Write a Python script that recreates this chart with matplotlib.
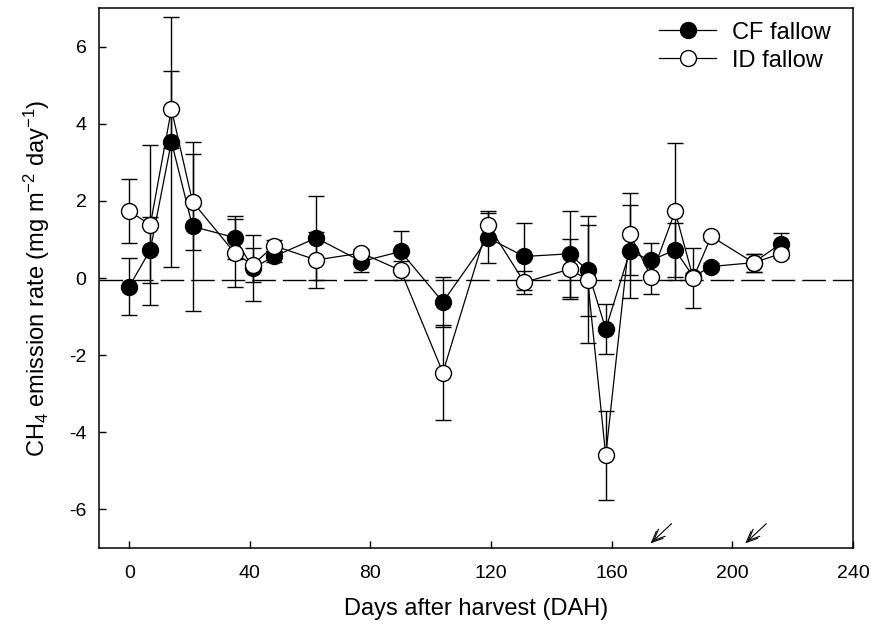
import numpy as np
import matplotlib
matplotlib.use("Agg")
import matplotlib.pyplot as plt

plt.rcParams['font.family'] = ['Liberation Sans', 'DejaVu Sans']
plt.rcParams['axes.unicode_minus'] = False
plt.rcParams['mathtext.fontset'] = 'custom'
plt.rcParams['mathtext.rm'] = 'Liberation Sans'
plt.rcParams['mathtext.it'] = 'Liberation Sans'
plt.rcParams['mathtext.default'] = 'regular'

# -------------------------------
# DATOS
# -------------------------------
dias = [0, 7, 14, 21, 35, 41, 48, 62, 77, 90, 104, 119, 131, 146, 152, 158,
        166, 173, 181, 187, 193, 207, 216]

cf_media = [-0.22, 0.73, 3.54, 1.34, 1.05, 0.26, 0.56, 1.04, 0.43, 0.69, -0.62,
            1.04, 0.56, 0.63, 0.20, -1.32, 0.69, 0.46, 0.73, 0.04, 0.30, 0.40, 0.89]
cf_err = [0.75, 0.86, 3.24, 2.19, 0.56, 0.86, 0.15, 1.08, 0.26, 0.52, 0.64,
          0.66, 0.88, 1.12, 1.18, 0.64, 1.20, 0.45, 0.71, 0.10, 0.10, 0.23, 0.29]

id_media = [1.74, 1.38, 4.38, 1.98, 0.65, 0.34, 0.84, 0.47, 0.65, 0.20, -2.45,
            1.38, -0.11, 0.23, -0.04, -4.60, 1.14, 0.04, 1.73, 0.00, 1.08, 0.40, 0.63]
id_err = [0.84, 2.07, 1.00, 1.25, 0.87, 0.43, 0.15, 0.73, 0.10, 0.24, 1.22,
          0.37, 0.30, 0.78, 1.65, 1.15, 1.06, 0.45, 1.78, 0.77, 0.10, 0.23, 0.10]

# flechas (dia de la punta)
flechas = [172.2, 203.6]

# -------------------------------
# FIGURA
# -------------------------------
fig = plt.figure(figsize=(8.71, 6.32), dpi=100)
ax = fig.add_axes([0.1137, 0.133, 0.8657, 0.854])

ax.axhline(-0.05, color='black', lw=1.0, dashes=(17, 5), zorder=1)

# barras de error
ax.errorbar(dias, cf_media, yerr=cf_err, fmt='none', ecolor='black',
            elinewidth=1.0, capsize=5.5, capthick=1.0, zorder=2)
ax.errorbar(dias, id_media, yerr=id_err, fmt='none', ecolor='black',
            elinewidth=1.0, capsize=5.5, capthick=1.0, zorder=2)

# lineas + marcadores
ax.plot(dias, cf_media, '-o', color='black', lw=0.9, ms=11.5, mfc='black',
        mec='black', label='CF fallow', zorder=3)
ax.plot(dias, id_media, '-o', color='black', lw=0.9, ms=11.5, mfc='white',
        mec='black', label='ID fallow', zorder=4)

for d in flechas:
    ax.annotate('', xy=(d, -6.93), xytext=(d + 8.3, -6.32),
                arrowprops=dict(arrowstyle='->,head_length=0.8,head_width=0.35',
                                color='black', lw=0.8))
    # segunda punta (flecha doble)
    ax.annotate('', xy=(d + 1.4, -6.83), xytext=(d + 2.6, -6.74),
                arrowprops=dict(arrowstyle='->,head_length=0.8,head_width=0.35',
                                color='black', lw=0.8))

ax.set_xlim(-10, 240)
ax.set_ylim(-7, 7)
ax.set_xticks([0, 40, 80, 120, 160, 200, 240])
ax.set_yticks([-6, -4, -2, 0, 2, 4, 6])
ax.tick_params(axis='both', direction='in', length=5, width=1.0, labelsize=14)
ax.tick_params(axis='x', pad=12)
ax.tick_params(axis='y', pad=9)
for s in ax.spines.values():
    s.set_linewidth(1.1)

ax.set_xlabel('Days after harvest (DAH)', fontsize=17, labelpad=12)
ax.set_ylabel('CH$_4$ emission rate (mg m$^{-2}$ day$^{-1}$)', fontsize=17,
              labelpad=12)

leg = ax.legend(loc='upper left', bbox_to_anchor=(0.743, 0.975), frameon=False,
                fontsize=17, borderpad=0, borderaxespad=0, handlelength=2.4,
                handletextpad=0.7, labelspacing=0.25, numpoints=1)

fig.savefig('out.png', dpi=100)
